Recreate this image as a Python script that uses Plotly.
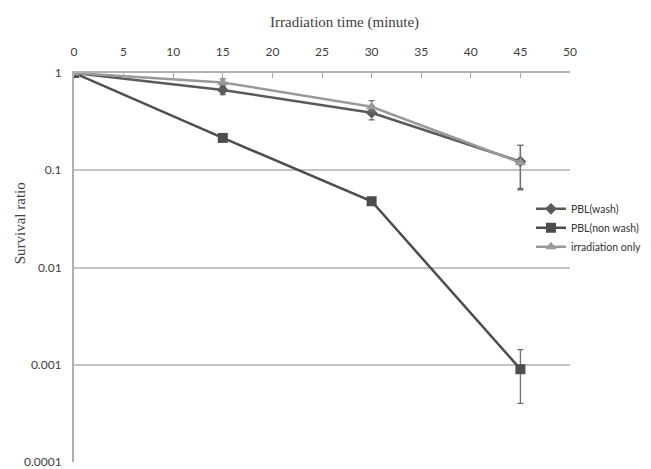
import plotly.graph_objects as go

time_min = [0, 15, 30, 45]

wash = [1.0, 0.67, 0.39, 0.123]
wash_hi = [1.0, 0.72, 0.43, 0.18]
wash_lo = [1.0, 0.60, 0.33, 0.065]

non_wash = [1.0, 0.215, 0.048, 0.0009]
non_wash_hi = [1.0, 0.215, 0.048, 0.00143]
non_wash_lo = [1.0, 0.215, 0.048, 0.0004]

irr_only = [1.0, 0.80, 0.45, 0.12]
irr_hi = [1.0, 0.87, 0.52, 0.18]
irr_lo = [1.0, 0.74, 0.40, 0.063]

x_ticks = [0, 5, 10, 15, 20, 25, 30, 35, 40, 45, 50]
y_ticks = [1, 0.1, 0.01, 0.001, 0.0001]
y_tick_labels = ["1", "0.1", "0.01", "0.001", "0.0001"]


def err(v, hi, lo):
    return dict(type="data", symmetric=False,
                array=[h - a for a, h in zip(v, hi)],
                arrayminus=[a - l for a, l in zip(v, lo)],
                color="#6e6e6e", thickness=1.3, width=3)


fig = go.Figure()
fig.add_trace(go.Scatter(x=time_min, y=wash, name="PBL(wash)", mode="lines+markers",
                         line=dict(color="#5a5a5a", width=2.5),
                         marker=dict(symbol="diamond", size=9, color="#5a5a5a"),
                         error_y=err(wash, wash_hi, wash_lo)))
fig.add_trace(go.Scatter(x=time_min, y=non_wash, name="PBL(non wash)", mode="lines+markers",
                         line=dict(color="#4d4d4d", width=2.5),
                         marker=dict(symbol="square", size=10, color="#4d4d4d"),
                         error_y=err(non_wash, non_wash_hi, non_wash_lo)))
fig.add_trace(go.Scatter(x=time_min, y=irr_only, name="irradiation only", mode="lines+markers",
                         line=dict(color="#999999", width=2.5),
                         marker=dict(symbol="triangle-up", size=10, color="#999999"),
                         error_y=err(irr_only, irr_hi, irr_lo)))

fig.update_layout(
    width=651, height=469,
    margin=dict(l=66, r=89, t=65, b=8),
    paper_bgcolor="white", plot_bgcolor="white",
    font=dict(family="Lato, sans-serif", size=12, color="#404040"),
    showlegend=True,
    legend=dict(x=(523 - 66) / 496, xanchor="left", y=0.688, yanchor="top",
                font=dict(family="Lato, sans-serif", size=10.5, color="#333333"),
                tracegroupgap=0, itemwidth=30, bgcolor="rgba(0,0,0,0)"),
    xaxis=dict(range=[0, 50], side="top", tickvals=x_ticks,
               ticks="inside", ticklen=5, tickcolor="#a6a6a6", tickwidth=1,
               showline=True, linecolor="#b0b0b0", linewidth=2,
               showgrid=False, zeroline=False,
               ticklabelstandoff=10,
               tickfont=dict(family="Lato, sans-serif", size=12, color="#404040")),
    yaxis=dict(type="log", range=[-4, 0], tickvals=y_ticks, ticktext=y_tick_labels,
               ticks="", showline=True, linecolor="#b0b0b0", linewidth=2,
               showgrid=True, gridcolor="#c4c4c4", gridwidth=1.5,
               zeroline=False, ticklabelstandoff=8,
               tickfont=dict(family="Lato, sans-serif", size=12, color="#404040")),
    annotations=[
        dict(text="Irradiation time (minute)", xref="paper", yref="paper",
             x=(336 - 66) / 496, y=(469 - 8 - 14) / 396, xanchor="center", yanchor="middle",
             showarrow=False,
             font=dict(family="Liberation Serif, serif", size=15, color="#404040")),
        dict(text="Survival ratio", xref="paper", yref="paper",
             x=(12 - 66) / 496, y=(461 - 218) / 396, xanchor="center", yanchor="middle",
             textangle=-90, showarrow=False,
             font=dict(family="Liberation Serif, serif", size=15, color="#404040")),
    ],
)

fig.write_html("out.html")
